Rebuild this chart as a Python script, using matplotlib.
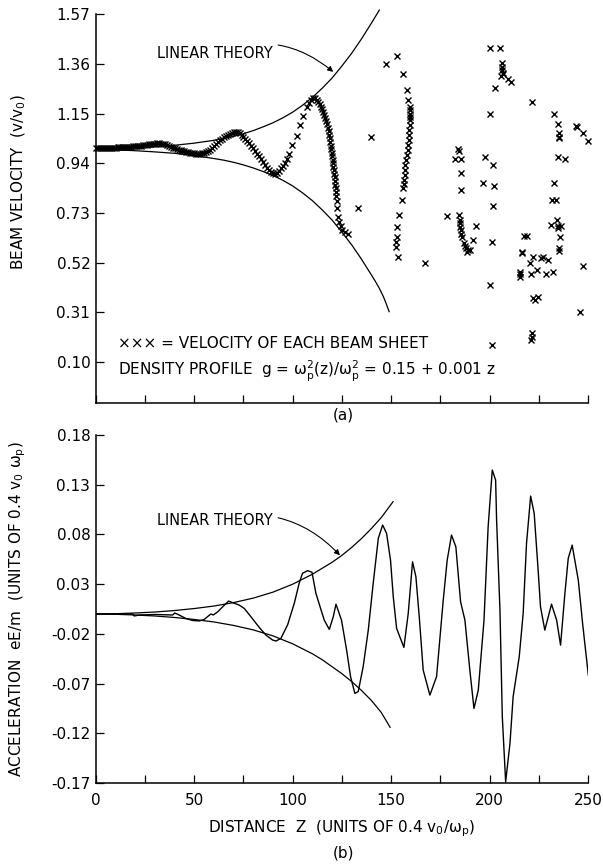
import matplotlib
matplotlib.use('Agg')
import matplotlib.pyplot as plt

plt.rcParams['font.family'] = ['DejaVu Sans']
plt.rcParams['mathtext.default'] = 'regular'

# ---- (a) beam sheet velocities ----
sheet_z = [
    0, 1, 2, 3, 4, 5, 6, 7, 8, 9, 10, 11, 12, 13, 14, 15, 16, 17, 18, 19,
    20, 21, 22, 23, 24, 25, 26, 27, 28, 29, 30, 31, 32, 33, 34, 35, 36, 37,
    38, 39, 40, 41, 42, 43, 44, 45, 46, 47, 48, 49, 50, 51, 52, 53, 54,
    55, 56, 57, 58, 59, 60, 61, 62, 63, 64, 65, 66, 67, 68, 69, 70, 71, 72,
    73, 74, 75, 76, 77, 78, 79, 80, 81, 82, 83, 84, 85, 86, 87, 88, 89, 90,
    91, 92, 93, 94.3, 95.2, 96, 97.1, 98.2, 99.9, 102, 103.7, 105.3, 107.4,
    108.4, 109.3, 110.2, 111.1,
    112.3, 113, 113.8, 114.5, 115, 115.5, 116, 116.5, 117, 117.5, 117.9, 118.2,
    118.5, 118.8, 119.1, 119.4, 119.7, 119.9, 120.1, 120.3, 120.5, 120.7,
    120.9, 121.1, 121.3, 121.5, 121.7, 121.9, 122.0, 122.2, 122.4, 122.6,
    123.1, 123.7, 124.3, 125.3, 126.5, 128.2,
    133.3, 140.0,
    147.4, 152.8, 156.2, 157.9, 158.7, 159.6, 159.8, 159.8, 159.7, 159.6,
    159.4, 159.2, 159.0, 158.9, 158.6, 158.4, 158.0, 157.5, 157.3, 157.2,
    157.0, 156.7, 156.5, 156.2, 155.3, 154.1, 153.1, 152.8, 152.4, 152.6,
    153.6, 167.2,
    184.1, 184.5, 182.4, 185.3, 185.3, 185.3, 178.3, 184.6, 184.8, 185.0,
    185.2, 185.4, 185.7, 186.0, 187.0, 187.5, 188.3, 189.0, 190.0, 188.5,
    191.7, 193.1,
    200.2, 205.3, 206.1, 206.3, 206.5, 206.8, 207.1, 206.0, 209.5, 210.7,
    202.7, 200.2, 197.7, 201.9, 196.5, 202.2, 201.9, 201.1, 200.2, 201.1,
    217.3, 218.9, 216.3, 215.4, 215.4, 215.4,
    221.7, 232.9, 234.6, 235.4, 235.4, 235.2, 243.7, 244.3, 247.3, 250.2,
    234.6, 238.3, 232.9, 231.6, 233.6, 234.1, 231.2, 235.0, 236.3, 234.8,
    235.8, 235.4, 235.4, 216.6, 220.5, 222.2, 226.1, 227.3, 229.5, 223.9,
    221.0, 228.5, 232.4, 247.3, 222.0, 224.7, 223.0, 245.9, 221.7, 221.7,
    221.3,
]
sheet_v = [
    1.005, 1.005, 1.005, 1.005, 1.005, 1.005, 1.005, 1.006, 1.006, 1.006,
    1.006, 1.007, 1.007, 1.008, 1.008, 1.009, 1.009, 1.010, 1.010, 1.011,
    1.012, 1.013, 1.014, 1.015, 1.016, 1.018, 1.019, 1.020, 1.021, 1.022,
    1.023, 1.024, 1.024, 1.023, 1.022, 1.020, 1.017, 1.014, 1.010, 1.006,
    1.003, 1.000, 0.997, 0.994, 0.992, 0.990, 0.988, 0.986, 0.985, 0.983,
    0.982, 0.981, 0.981, 0.981, 0.982,
    0.983, 0.986, 0.991, 0.998, 1.006, 1.014, 1.022, 1.030, 1.037, 1.044,
    1.050, 1.056, 1.061, 1.065, 1.069, 1.071, 1.073, 1.071,
    1.066, 1.059, 1.051, 1.043, 1.034, 1.025, 1.015, 1.005, 0.993, 0.981,
    0.969, 0.957, 0.945, 0.933, 0.921, 0.910, 0.902, 0.897,
    0.896, 0.900, 0.907, 0.918, 0.928, 0.939, 0.958, 0.978, 1.017, 1.055,
    1.101, 1.139, 1.178, 1.196, 1.208, 1.214, 1.214,
    1.207, 1.200, 1.190, 1.178, 1.168, 1.157, 1.145, 1.131, 1.118, 1.105,
    1.090, 1.075, 1.060, 1.045, 1.030, 1.015, 1.000, 0.985, 0.970, 0.955,
    0.940, 0.925, 0.910, 0.895, 0.880, 0.865, 0.850, 0.835, 0.820, 0.800,
    0.780, 0.750, 0.714, 0.690, 0.674, 0.660, 0.650, 0.643,
    0.750, 1.049,
    1.359, 1.393, 1.316, 1.249, 1.207, 1.178, 1.165, 1.150, 1.137, 1.122,
    1.100, 1.080, 1.060, 1.038, 1.017, 0.995, 0.975, 0.953, 0.932, 0.911,
    0.890, 0.869, 0.852, 0.834, 0.784, 0.721, 0.671, 0.629, 0.608, 0.587,
    0.545, 0.518,
    0.999, 0.990, 0.960, 0.956, 0.897, 0.826, 0.717, 0.721, 0.700, 0.686,
    0.670, 0.657, 0.643, 0.629, 0.601, 0.590, 0.580, 0.575, 0.573, 0.566,
    0.615, 0.674,
    1.425, 1.425, 1.362, 1.345, 1.333, 1.322, 1.319, 1.310, 1.298, 1.284,
    1.256, 1.147, 0.967, 0.932, 0.857, 0.843, 0.759, 0.608, 0.425, 0.171,
    0.632, 0.632, 0.566, 0.472, 0.460, 0.480,
    1.200, 1.150, 1.105, 1.066, 1.052, 1.046, 1.097, 1.092, 1.069, 1.035,
    0.967, 0.960, 0.855, 0.784, 0.784, 0.700, 0.679, 0.674, 0.676, 0.665,
    0.629, 0.580, 0.570, 0.562, 0.517, 0.545, 0.539, 0.545, 0.531, 0.488,
    0.474, 0.470, 0.481, 0.505, 0.370, 0.376, 0.362, 0.312, 0.221, 0.205,
    0.195,
]

# linear theory envelope for the velocity
vel_up_z = [0, 10, 20, 30, 40, 50, 60, 65, 70, 75, 80, 85, 90, 95, 100, 105,
            110, 115, 120, 125, 130, 135, 140, 144]
vel_up_v = [1.000, 1.002, 1.005, 1.010, 1.016, 1.025, 1.037, 1.045, 1.054,
            1.065, 1.078, 1.094, 1.111, 1.132, 1.156, 1.185, 1.218, 1.257,
            1.300, 1.351, 1.405, 1.466, 1.532, 1.587]
vel_lo_z = [0, 10, 20, 30, 40, 50, 60, 65, 70, 75, 80, 85, 90, 95, 100, 105,
            110, 115, 120, 125, 130, 135, 140, 142, 144, 146, 147.5, 149]
vel_lo_v = [1.000, 0.997, 0.993, 0.988, 0.982, 0.972, 0.960, 0.953, 0.944,
            0.933, 0.920, 0.905, 0.888, 0.868, 0.844, 0.815, 0.782, 0.743,
            0.700, 0.649, 0.595, 0.534, 0.468, 0.441, 0.412, 0.378, 0.347,
            0.313]

vel_ticks = [0.10, 0.31, 0.52, 0.73, 0.94, 1.15, 1.36, 1.57]

# ---- (b) acceleration ----
acc_z = [0, 18.6, 19.5, 22, 30.5, 39, 40.1, 42.3, 45.7, 49.1, 52.5, 55, 58.4,
         59.6, 61.8, 64.4, 67.4, 69.4, 72.8, 75.4, 78.8, 83, 86.4, 89.8, 91.5,
         94, 97.4, 100.8, 103.3, 105, 107.6, 109.8, 111.8, 116, 118.6, 120.6,
         122.0, 124.8, 127.4, 129.4, 131.6, 133.3, 135.8, 138.4, 140.9, 143.5,
         145.7, 147.7, 149.7, 151.1, 152.8, 156.5, 158.7, 160.9, 162.6, 164.3,
         166.3, 169.7, 173.1, 176.5, 178.5, 180.7, 182.9, 185.3, 187.5, 190,
         192.1, 194.3, 197.2, 199.3, 201.4, 203.1, 203.6, 205.3, 206.5, 208.2,
         210.4, 212, 215.1, 217.1, 218.8, 220.9, 222.7, 224.7, 225.9, 228.1,
         231.5, 234.1, 236.1, 238.3, 240, 242, 245.1, 247.3, 250.2]
acc_a = [0.0, 0.0, -0.002, -0.001, -0.0005, -0.001, 0.001, -0.001, -0.0045,
         -0.0065, -0.007, -0.0055, 0.0, -0.001, 0.002, 0.0072, 0.013, 0.0115,
         0.009, 0.0056, -0.0028, -0.0135, -0.0212, -0.0262, -0.0272, -0.0245,
         -0.011, 0.0107, 0.031, 0.041, 0.0436, 0.042, 0.0207, -0.006, -0.0155,
         -0.0028, 0.0099, -0.0062, -0.0363, -0.063, -0.0799, -0.078, -0.0531,
         -0.0162, 0.0308, 0.0761, 0.0895, 0.0811, 0.0542, 0.0173, -0.0145,
         -0.0336, 0.0006, 0.0525, 0.0374, -0.0028, -0.0564, -0.0816, -0.063,
         0.0142, 0.0542, 0.0794, 0.0676, 0.0123, -0.0062, -0.0564, -0.095,
         -0.0765, -0.0062, 0.0877, 0.1448, 0.1347, 0.0945, 0.004, -0.1034,
         -0.1688, -0.130, -0.0832, -0.043, 0.0006, 0.071, 0.1186, 0.1012,
         0.0442, 0.0073, -0.0162, 0.0099, -0.0062, -0.0313, 0.0207, 0.056,
         0.0693, 0.0341, -0.0095, -0.0615]

acc_up_z = [0, 10, 20, 30, 40, 50, 60, 70, 80, 90, 100, 110, 115, 120, 125,
            130, 135, 140, 145, 151]
acc_up_a = [0.0, 0.0003, 0.001, 0.002, 0.0035, 0.0055, 0.008, 0.0115, 0.016,
            0.022, 0.030, 0.040, 0.046, 0.052, 0.059, 0.067, 0.076, 0.086,
            0.097, 0.113]
acc_lo_z = [0, 10, 20, 30, 40, 50, 60, 70, 80, 90, 100, 110, 115, 120, 125,
            130, 135, 140, 145, 149.5]
acc_lo_a = [0.0, -0.0003, -0.001, -0.002, -0.0035, -0.0055, -0.008, -0.0115,
            -0.016, -0.022, -0.030, -0.040, -0.046, -0.053, -0.060, -0.068,
            -0.077, -0.087, -0.099, -0.114]

acc_ticks = [-0.17, -0.12, -0.07, -0.02, 0.03, 0.08, 0.13, 0.18]
z_ticks = [0, 25, 50, 75, 100, 125, 150, 175, 200, 225, 250]

fig = plt.figure(figsize=(6.03, 8.68), dpi=100)
ax1 = fig.add_axes([0.159, 0.5357, 0.816, 0.448])
ax2 = fig.add_axes([0.159, 0.0979, 0.816, 0.4009])

for ax in (ax1, ax2):
    ax.spines['top'].set_visible(False)
    ax.spines['right'].set_visible(False)
    ax.spines['left'].set_linewidth(1.1)
    ax.spines['bottom'].set_linewidth(1.1)
    ax.tick_params(direction='in', length=6, width=0.9, labelsize=11, pad=4)
    ax.set_xlim(0, 250)
    ax.set_xticks(z_ticks)

# (a)
ax1.plot(vel_up_z, vel_up_v, color='k', lw=0.9, clip_on=False)
ax1.plot(vel_lo_z, vel_lo_v, color='k', lw=0.9)
ax1.plot(sheet_z, sheet_v, linestyle='none', marker='x', ms=4.5, mew=1.0,
         color='k', clip_on=False)
ax1.set_ylim(-0.073, 1.57)
ax1.set_yticks(vel_ticks)
ax1.set_yticklabels([f'{t:.2f}' for t in vel_ticks])
ax1.set_xticklabels([])
ax1.set_ylabel(r'BEAM VELOCITY  (v/v$_0$)', fontsize=11)
ax1.yaxis.set_label_coords(-0.138, 0.568)
ax1.annotate('LINEAR THEORY', xy=(120.6, 1.326), xytext=(31, 1.405),
             ha='left', va='center', fontsize=10.5,
             arrowprops=dict(arrowstyle='-|>', color='k', lw=0.8,
                             mutation_scale=8, shrinkA=2, shrinkB=0,
                             connectionstyle='arc3,rad=-0.3'))
ax1.text(11, 0.180, '\u00d7\u00d7\u00d7 = VELOCITY OF EACH BEAM SHEET',
         ha='left', va='center', fontsize=11)
ax1.text(11, 0.062,
         r'DENSITY PROFILE  g = $\omega_p^2$(z)/$\omega_p^2$ = 0.15 + 0.001 z',
         ha='left', va='center', fontsize=11)

# (b)
ax2.plot(acc_up_z, acc_up_a, color='k', lw=0.9)
ax2.plot(acc_lo_z, acc_lo_a, color='k', lw=0.9)
ax2.plot(acc_z, acc_a, color='k', lw=1.0)
ax2.set_ylim(-0.17, 0.18)
ax2.set_yticks(acc_ticks)
ax2.set_yticklabels([f'{t:.2f}' for t in acc_ticks])
ax2.set_xticklabels([str(t) if t % 50 == 0 else '' for t in z_ticks])
ax2.tick_params(axis='x', pad=7)
ax2.set_ylabel(r'ACCELERATION  eE/m  (UNITS OF 0.4 v$_0$ $\omega_p$)', fontsize=11)
ax2.yaxis.set_label_coords(-0.138, 0.5)
ax2.set_xlabel(r'DISTANCE  Z  (UNITS OF 0.4 v$_0$/$\omega_p$)', fontsize=11)
ax2.xaxis.set_label_coords(0.5, -0.103)
ax2.annotate('LINEAR THEORY', xy=(124, 0.059), xytext=(31, 0.0945),
             ha='left', va='center', fontsize=10.5,
             arrowprops=dict(arrowstyle='-|>', color='k', lw=0.8,
                             mutation_scale=8, shrinkA=2, shrinkB=0,
                             connectionstyle='arc3,rad=-0.3'))

fig.text(343 / 603, 1 - 415 / 868, '(a)', ha='center', va='center', fontsize=11)
fig.text(343 / 603, 1 - 853 / 868, '(b)', ha='center', va='center', fontsize=11)

fig.savefig('out.png', dpi=100)
